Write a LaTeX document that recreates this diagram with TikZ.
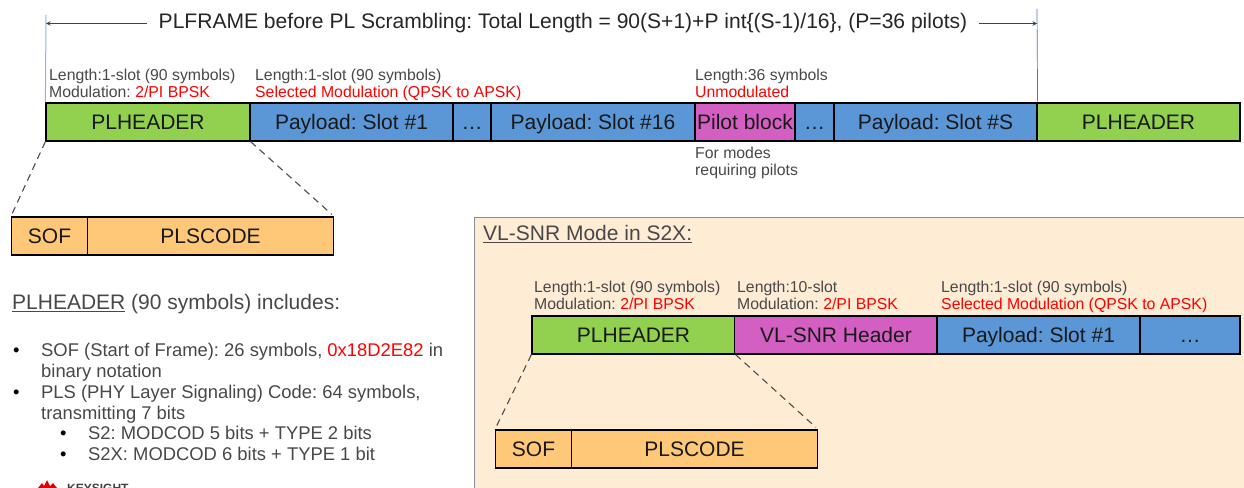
\documentclass[tikz,border=0pt]{standalone}
\usepackage{color}
\usepackage{fontspec}
\setmainfont{Liberation Sans}
\usepackage{tikz}
\definecolor{hdrgreen}{HTML}{92D050}
\definecolor{payblue}{HTML}{5B96D6}
\definecolor{pilotpink}{HTML}{D45FC2}
\definecolor{codeorange}{HTML}{FFC878}
\definecolor{panelcream}{HTML}{FEECD5}
\definecolor{labelgray}{HTML}{484848}
\newcommand{\redtxt}[1]{\textcolor{red}{#1}}
\frenchspacing
\tikzset{
  field/.style={rectangle,draw=black,line width=1.2pt,minimum height=38pt,inner sep=0pt,text height=19.5pt,text depth=4pt,font=\fontsize{21}{24}\selectfont,text=black!90},
  info/.style={anchor=north west,align=left,inner sep=0pt,text=labelgray,font=\fontsize{15.8}{17}\selectfont},
  listline/.style={anchor=west,inner sep=0pt,text height=17pt,text depth=3pt,text=labelgray,font=\fontsize{18.4}{20}\selectfont},
  dotline/.style={listline,text=black},
  zoomline/.style={line width=1.1pt,draw=black!70,dash pattern=on 7pt off 5pt,shorten >=3pt},
  spanarrow/.style={->,>=stealth,line width=1pt,draw=black!75}
}
\begin{document}
\begin{tikzpicture}[x=1pt,y=-1pt]
\useasboundingbox (0,0) rectangle (1244,487);
\fill [white] (0,0) rectangle (1244,487);

% panel behind the lower frame
\node (panel) at (874,367) [rectangle,draw=black!45,line width=1pt,fill=panelcream,minimum width=800pt,minimum height=300pt,inner sep=0pt] {};

% upper frame
\node (title) at (563,23.5) [inner sep=0pt,minimum width=832pt,minimum height=24pt,text=black!85,font=\fontsize{21.05}{24}\selectfont] {PLFRAME before PL Scrambling: Total Length = 90(S+1)+P int\{(S-1)/16\}, (P=36 pilots)};
\node (hdra) at (148,122) [field,fill=hdrgreen,minimum width=204pt] {PLHEADER};
\node (paya) at (351.5,122) [field,fill=payblue,minimum width=203pt] {Payload: Slot \#1};
\node (dota) at (472,122) [field,fill=payblue,minimum width=38pt] {…};
\node (payb) at (593,122) [field,fill=payblue,minimum width=204pt] {Payload: Slot \#16};
\node (pilot) at (745,122) [field,fill=pilotpink,minimum width=100pt] {Pilot block};
\node (dotb) at (814.5,122) [field,fill=payblue,minimum width=39pt] {…};
\node (payc) at (935.5,122) [field,fill=payblue,minimum width=203pt] {Payload: Slot \#S};
\node (hdrb) at (1138.5,122) [field,fill=hdrgreen,minimum width=203pt] {PLHEADER};

\coordinate (ltop) at (46,15);
\coordinate (rtop) at (1037,9);
\draw [line width=1pt,color=payblue!70] (ltop) -- (hdra.north west);
\draw [line width=0.7pt,color=payblue!80!black] (rtop) -- (payc.north east);
\draw [spanarrow] (title.west) -- (title.west -| ltop);
\draw [spanarrow] (title.east) -- (title.east -| rtop);

\node (la) at (49,68.5) [info] {Length:1-slot (90 symbols)\\Modulation: \redtxt{2/PI BPSK}};
\node (lb) at (255,68.5) [info] {Length:1-slot (90 symbols)\\\redtxt{Selected Modulation (QPSK to APSK)}};
\node (lc) at (695,68.5) [info] {Length:36 symbols\\\redtxt{Unmodulated}};
\node (ld) at (695,147) [info] {For modes\\requiring pilots};

% zoom of the upper header
\node (sofa) at (49.5,236) [field,fill=codeorange,minimum width=76pt] {SOF};
\node (codea) at (210.5,236) [field,fill=codeorange,minimum width=246pt] {PLSCODE};
\draw [zoomline] (hdra.south west) -- (sofa.north west);
\draw [zoomline] (hdra.south east) -- (codea.north east);

% header description
\node (inc) at (12,304.5) [anchor=west,inner sep=0pt,text=labelgray,font=\fontsize{21}{24}\selectfont] {\underline{PLHEADER} (90 symbols) includes:};
\node (ba) at (13,349) [dotline] {•};
\node (ta) at (41,349) [listline] {SOF (Start of Frame): 26 symbols, \redtxt{0x18D2E82} in};
\node (tb) at (41,370) [listline] {binary notation};
\node (bb) at (13,391) [dotline] {•};
\node (tc) at (41,391) [listline] {PLS (PHY Layer Signaling) Code: 64 symbols,};
\node (td) at (41,412) [listline] {transmitting 7 bits};
\node (bc) at (60,432.5) [dotline] {•};
\node (te) at (88,432.5) [listline] {S2: MODCOD 5 bits + TYPE 2 bits};
\node (bd) at (60,453.5) [dotline] {•};
\node (tf) at (88,453.5) [listline] {S2X: MODCOD 6 bits + TYPE 1 bit};

% logo, cut by the lower edge
\begin{scope}
\clip (0,470) rectangle (1244,487);
\fill [color=red!90!black] (38,488) -- (42,483) -- (44,486) -- (47,480) -- (50,486) -- (53,483) -- (57,488) -- cycle;
\node (logo) at (67,488.5) [anchor=west,inner sep=0pt,text=black!75,font=\fontsize{12}{14}\bfseries\selectfont] {KEYSIGHT};
\end{scope}

% lower frame
\node (vl) at (483,234) [anchor=west,inner sep=0pt,text=labelgray,font=\fontsize{21}{24}\selectfont] {\underline{VL-SNR Mode in S2X:}};
\node (hdrc) at (633.5,335) [field,fill=hdrgreen,minimum width=203pt] {PLHEADER};
\node (vlhdr) at (836,335) [field,fill=pilotpink,minimum width=203pt] {VL-SNR Header};
\node (payd) at (1038.5,335) [field,fill=payblue,minimum width=203pt] {Payload: Slot \#1};
\node (dotc) at (1190,335) [field,fill=payblue,minimum width=100pt] {…};

\node (le) at (534,281) [info] {Length:1-slot (90 symbols)\\Modulation: \redtxt{2/PI BPSK}};
\node (lf) at (737,281) [info] {Length:10-slot\\Modulation: \redtxt{2/PI BPSK}};
\node (lg) at (941,281) [info] {Length:1-slot (90 symbols)\\\redtxt{Selected Modulation (QPSK to APSK)}};

\node (sofb) at (533.5,449) [field,fill=codeorange,minimum width=76pt] {SOF};
\node (codeb) at (694.5,449) [field,fill=codeorange,minimum width=246pt] {PLSCODE};
\draw [zoomline] (hdrc.south west) -- (sofb.north west);
\draw [zoomline] (hdrc.south east) -- (codeb.north east);
\end{tikzpicture}
\end{document}
